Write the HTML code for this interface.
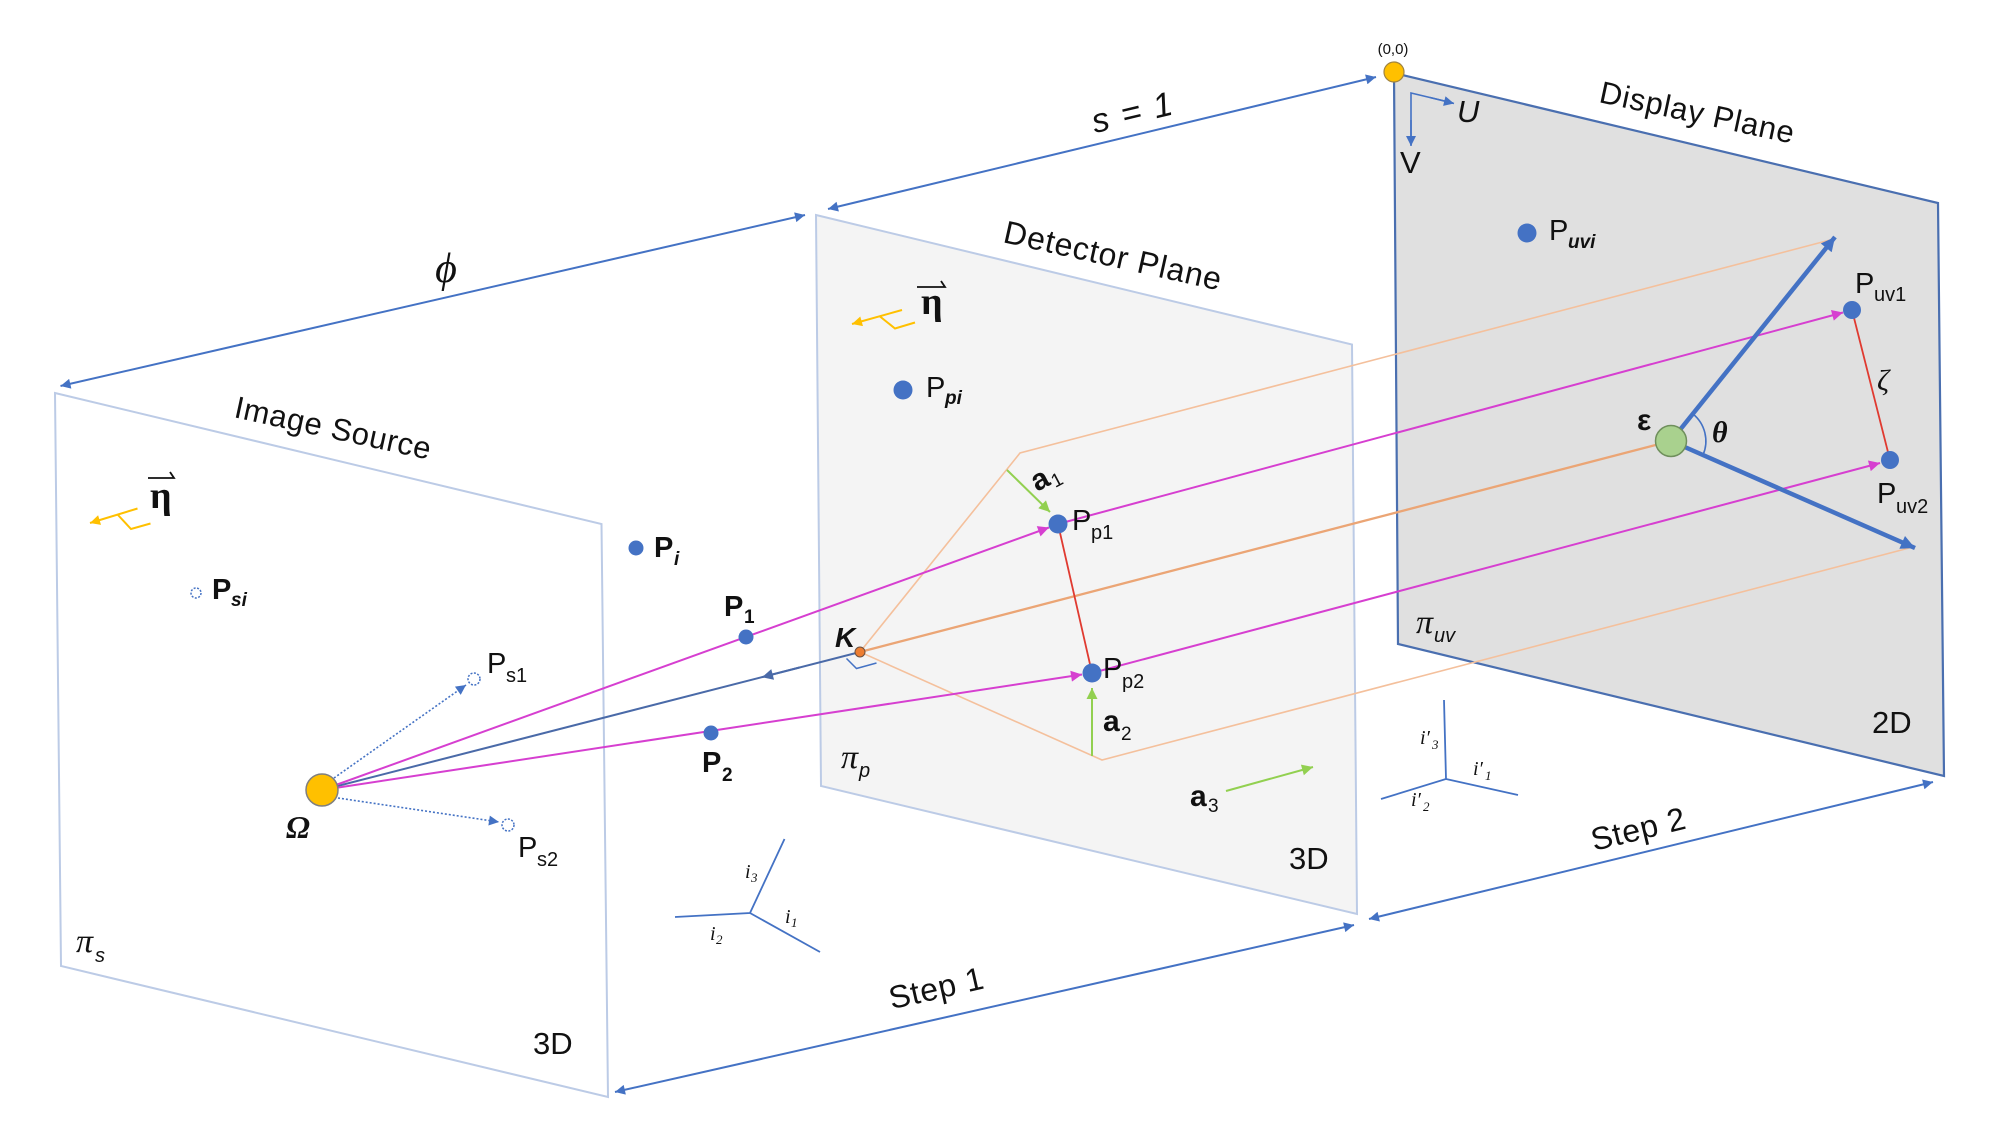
<!DOCTYPE html>
<html><head><meta charset="utf-8"><style>
html,body{margin:0;padding:0;background:#fff;}
svg{display:block;}
text{font-family:"Liberation Sans",sans-serif;fill:#111;}
.sf{font-family:"Liberation Serif","DejaVu Serif",serif;}
</style></head><body>
<svg width="2000" height="1125" viewBox="0 0 2000 1125" xmlns="http://www.w3.org/2000/svg">
<defs>
<marker id="mb" viewBox="0 0 10 10" refX="10" refY="5" markerWidth="13" markerHeight="10" markerUnits="userSpaceOnUse" orient="auto-start-reverse"><path d="M0,0 L10,5 L0,10 z" fill="#4472c4"/></marker>
<marker id="mbd" viewBox="0 0 10 10" refX="10" refY="5" markerWidth="14" markerHeight="11" markerUnits="userSpaceOnUse" orient="auto-start-reverse"><path d="M0,0 L10,5 L0,10 z" fill="#4a6aa8"/></marker>
<marker id="mbt" viewBox="0 0 10 10" refX="10" refY="5" markerWidth="18" markerHeight="14" markerUnits="userSpaceOnUse" orient="auto"><path d="M0,0 L10,5 L0,10 z" fill="#4472c4"/></marker>
<marker id="mm" viewBox="0 0 10 10" refX="10" refY="5" markerWidth="14" markerHeight="11" markerUnits="userSpaceOnUse" orient="auto"><path d="M0,0 L10,5 L0,10 z" fill="#d63fd0"/></marker>
<marker id="mg" viewBox="0 0 10 10" refX="10" refY="5" markerWidth="13" markerHeight="11" markerUnits="userSpaceOnUse" orient="auto"><path d="M0,0 L10,5 L0,10 z" fill="#92d050"/></marker>
<marker id="my" viewBox="0 0 10 10" refX="10" refY="5" markerWidth="11" markerHeight="10" markerUnits="userSpaceOnUse" orient="auto"><path d="M0,0 L10,5 L0,10 z" fill="#ffc000"/></marker>
</defs>

<!-- Planes -->
<polygon points="55,393 601.5,524 608,1097 61,966" fill="#ffffff" stroke="#bccbe6" stroke-width="2"/>
<polygon points="816,215 1352,344.5 1357,914 821,786" fill="#f4f4f4" stroke="#bccbe6" stroke-width="2"/>
<polygon points="1394,73 1938,203 1944,776 1398,644" fill="#e0e0e0" stroke="#4a6fb0" stroke-width="2.2"/>

<!-- Dimension arrows -->
<line x1="60.5" y1="386" x2="805" y2="215" stroke="#4472c4" stroke-width="2" marker-start="url(#mb)" marker-end="url(#mb)"/>
<line x1="828" y1="209" x2="1376" y2="77" stroke="#4472c4" stroke-width="2" marker-start="url(#mb)" marker-end="url(#mb)"/>
<line x1="615" y1="1092" x2="1354" y2="925" stroke="#4472c4" stroke-width="2" marker-start="url(#mb)" marker-end="url(#mb)"/>
<line x1="1369" y1="919" x2="1933" y2="782" stroke="#4472c4" stroke-width="2" marker-start="url(#mb)" marker-end="url(#mb)"/>

<!-- Orange construction lines -->
<polyline points="1830,240 1020,453 860,652 1102,760 1913,547" fill="none" stroke="#f4c09c" stroke-width="1.6"/>
<line x1="860" y1="652" x2="1671" y2="441" stroke="#eba575" stroke-width="2.3"/>

<!-- Dotted arrows from Omega -->
<line x1="334" y1="778" x2="466" y2="685" stroke="#4472c4" stroke-width="1.6" stroke-dasharray="2,2" marker-end="url(#mb)"/>
<line x1="338" y1="798" x2="499" y2="822" stroke="#4472c4" stroke-width="1.6" stroke-dasharray="2,2" marker-end="url(#mb)"/>

<!-- Blue line K -> Omega -->
<line x1="860" y1="652" x2="322" y2="790" stroke="#4a6aa8" stroke-width="2"/>
<line x1="800" y1="667.4" x2="762" y2="677.2" stroke="#4a6aa8" stroke-width="2" marker-end="url(#mbd)"/>
<polyline points="846.5,658.5 856.5,668.5 876.5,663" fill="none" stroke="#4472c4" stroke-width="1.5"/>

<!-- Magenta rays -->
<line x1="322" y1="790" x2="1049" y2="527.5" stroke="#d63fd0" stroke-width="2" marker-end="url(#mm)"/>
<line x1="1058" y1="524" x2="1843" y2="312.5" stroke="#d63fd0" stroke-width="2" marker-end="url(#mm)"/>
<line x1="322" y1="790" x2="1082" y2="674.5" stroke="#d63fd0" stroke-width="2" marker-end="url(#mm)"/>
<line x1="1092" y1="673" x2="1880" y2="463" stroke="#d63fd0" stroke-width="2" marker-end="url(#mm)"/>

<!-- Red -->
<line x1="1058" y1="524" x2="1092" y2="673" stroke="#e03a30" stroke-width="1.8"/>
<line x1="1852" y1="310" x2="1890" y2="460" stroke="#e03a30" stroke-width="1.8"/>

<!-- Green a vectors -->
<line x1="1007" y1="470" x2="1050" y2="512" stroke="#92d050" stroke-width="2" marker-end="url(#mg)"/>
<line x1="1092" y1="756" x2="1092" y2="688" stroke="#92d050" stroke-width="2" marker-end="url(#mg)"/>
<line x1="1226" y1="791" x2="1313" y2="767" stroke="#92d050" stroke-width="2" marker-end="url(#mg)"/>

<!-- Thick blue arrows from epsilon -->
<line x1="1671" y1="441" x2="1835" y2="237" stroke="#4472c4" stroke-width="4.5" marker-end="url(#mbt)"/>
<line x1="1671" y1="441" x2="1915" y2="548" stroke="#4472c4" stroke-width="4.5" marker-end="url(#mbt)"/>
<path d="M1693,414 A35,35 0 0 1 1703,455" fill="none" stroke="#4472c4" stroke-width="1.6"/>

<!-- U V axes -->
<polyline points="1453,103 1411,93 1411,145" fill="none" stroke="#4472c4" stroke-width="1.6"/>
<line x1="1430" y1="97.5" x2="1454" y2="103.5" stroke="#4472c4" stroke-width="1.6" marker-end="url(#mb)"/>
<line x1="1411" y1="120" x2="1411" y2="146" stroke="#4472c4" stroke-width="1.6" marker-end="url(#mb)"/>

<!-- Yellow normal symbols -->
<line x1="137.5" y1="508.5" x2="90" y2="523" stroke="#ffc000" stroke-width="2" marker-end="url(#my)"/>
<polyline points="118,515 131,529 150.5,523.5" fill="none" stroke="#ffc000" stroke-width="2"/>
<line x1="902" y1="310" x2="852" y2="324" stroke="#ffc000" stroke-width="2" marker-end="url(#my)"/>
<polyline points="880,316.5 895,328.5 915,322.5" fill="none" stroke="#ffc000" stroke-width="2"/>

<!-- eta overlines -->
<polyline points="148,478 174,478 170,472" fill="none" stroke="#111" stroke-width="1.8"/>
<polyline points="917,287 945,287 941,281" fill="none" stroke="#111" stroke-width="1.8"/>

<!-- Coordinate axes -->
<polyline points="784.5,839 750,913 675,917" fill="none" stroke="#4472c4" stroke-width="1.8"/>
<line x1="750" y1="913" x2="820" y2="952" stroke="#4472c4" stroke-width="1.8"/>
<polyline points="1444,700 1446,779 1381,799" fill="none" stroke="#4472c4" stroke-width="1.8"/>
<line x1="1446" y1="779" x2="1518" y2="795" stroke="#4472c4" stroke-width="1.8"/>

<!-- Dots -->
<circle cx="322" cy="790" r="16" fill="#ffc000" stroke="#7f7f7f" stroke-width="1.5"/>
<circle cx="1671" cy="441" r="15.5" fill="#a9d18e" stroke="#6f8f5c" stroke-width="1.5"/>
<circle cx="1394" cy="72" r="10" fill="#ffc000" stroke="#a08440" stroke-width="1.2"/>
<circle cx="860" cy="652" r="5" fill="#ed7d31" stroke="#6b5040" stroke-width="1"/>
<g fill="#4472c4">
<circle cx="636" cy="548" r="7.5"/>
<circle cx="903" cy="390" r="9.5"/>
<circle cx="746" cy="637" r="7.5"/>
<circle cx="711" cy="733" r="7.5"/>
<circle cx="1058" cy="524" r="9.5"/>
<circle cx="1092" cy="673" r="9.5"/>
<circle cx="1527" cy="233" r="9.5"/>
<circle cx="1852" cy="310" r="9"/>
<circle cx="1890" cy="460" r="9"/>
</g>
<g fill="#fff" stroke="#4472c4" stroke-width="1.5" stroke-dasharray="2,1.5">
<circle cx="196" cy="593" r="5"/>
<circle cx="474" cy="679" r="6"/>
<circle cx="508" cy="825" r="6"/>
</g>

<!-- Rotated titles -->
<text x="233" y="417" font-size="31" textLength="200" lengthAdjust="spacing" transform="rotate(12.3 233 417)">Image Source</text>
<text x="1002" y="242" font-size="32" textLength="222" lengthAdjust="spacing" transform="rotate(12.6 1002 242)">Detector Plane</text>
<text x="1598" y="102" font-size="31" textLength="198" lengthAdjust="spacing" transform="rotate(12.1 1598 102)">Display Plane</text>
<text x="936" y="988" font-size="32" text-anchor="middle" dominant-baseline="central" textLength="96" lengthAdjust="spacing" transform="rotate(-12.7 936 988)">Step 1</text>
<text x="1638" y="829" font-size="32" text-anchor="middle" dominant-baseline="central" textLength="96" lengthAdjust="spacing" transform="rotate(-13.7 1638 829)">Step 2</text>
<text x="1132" y="113" font-size="34" font-style="italic" text-anchor="middle" dominant-baseline="central" textLength="82" lengthAdjust="spacing" transform="rotate(-13.5 1132 113)">s = 1</text>
<text class="sf" x="446" y="282" font-size="42" font-style="italic" text-anchor="middle">ϕ</text>
<text x="1393" y="54" font-size="15" text-anchor="middle">(0,0)</text>

<!-- Greek / symbols -->
<text class="sf" x="150" y="508" font-size="38" font-weight="bold">η</text>
<text class="sf" x="921" y="314" font-size="38" font-weight="bold">η</text>
<text class="sf" x="286" y="838" font-size="32" font-weight="bold" font-style="italic">Ω</text>
<text x="1637" y="430" font-size="30" font-weight="bold">ε</text>
<text class="sf" x="1712" y="442" font-size="30" font-weight="bold" font-style="italic">θ</text>
<text class="sf" x="1877" y="390" font-size="30" font-style="italic">ζ</text>
<text x="835" y="647" font-size="28" font-style="italic" font-weight="bold">K</text>
<text x="1457" y="122" font-size="31" font-style="italic">U</text>
<text x="1400" y="173" font-size="31">V</text>

<!-- pi labels -->
<text class="sf" x="76" y="952" font-size="34" font-style="italic">π</text><text x="95" y="962" font-size="20" font-style="italic">s</text>
<text class="sf" x="841" y="768" font-size="34" font-style="italic">π</text><text x="859" y="777" font-size="20" font-style="italic">p</text>
<text class="sf" x="1416" y="633" font-size="34" font-style="italic">π</text><text x="1434" y="642" font-size="20" font-style="italic">uv</text>

<!-- 2D/3D -->
<text x="533" y="1054" font-size="31">3D</text>
<text x="1289" y="869" font-size="31">3D</text>
<text x="1872" y="733" font-size="31">2D</text>

<!-- Point labels -->
<text x="654" y="557" font-size="29" font-weight="bold">P</text><text x="674" y="565" font-size="19" font-weight="bold" font-style="italic">i</text>
<text x="212" y="599" font-size="29" font-weight="bold">P</text><text x="231" y="606" font-size="19" font-weight="bold" font-style="italic">si</text>
<text x="926" y="397" font-size="29">P</text><text x="945" y="404" font-size="19" font-weight="bold" font-style="italic">pi</text>
<text x="1549" y="240" font-size="29">P</text><text x="1568" y="248" font-size="19" font-weight="bold" font-style="italic">uvi</text>
<text x="724" y="616" font-size="29" font-weight="bold">P</text><text x="744" y="623" font-size="19" font-weight="bold">1</text>
<text x="702" y="772" font-size="29" font-weight="bold">P</text><text x="722" y="781" font-size="19" font-weight="bold">2</text>
<text x="487" y="673" font-size="29">P</text><text x="506" y="682" font-size="20">s1</text>
<text x="518" y="857" font-size="29">P</text><text x="537" y="866" font-size="20">s2</text>
<text x="1072" y="530" font-size="29">P</text><text x="1091" y="539" font-size="20">p1</text>
<text x="1103" y="678" font-size="29">P</text><text x="1122" y="688" font-size="20">p2</text>
<text x="1855" y="293" font-size="29">P</text><text x="1874" y="301" font-size="20">uv1</text>
<text x="1877" y="503" font-size="29">P</text><text x="1896" y="513" font-size="20">uv2</text>

<!-- a labels -->
<g transform="rotate(-28 1046 477)"><text x="1031" y="486" font-size="30" font-weight="bold">a</text><text x="1049" y="491" font-size="19">1</text></g>
<text x="1103" y="731" font-size="30" font-weight="bold">a</text><text x="1121" y="740" font-size="19">2</text>
<text x="1190" y="806" font-size="30" font-weight="bold">a</text><text x="1208" y="812" font-size="19">3</text>

<!-- axis labels -->
<g class="sf" font-style="italic" fill="#222">
<text class="sf" x="745" y="878" font-size="20">i</text><text class="sf" x="751" y="882" font-size="13">3</text>
<text class="sf" x="710" y="940" font-size="20">i</text><text class="sf" x="716" y="944" font-size="13">2</text>
<text class="sf" x="785" y="923" font-size="20">i</text><text class="sf" x="791" y="927" font-size="13">1</text>
<text class="sf" x="1420" y="744" font-size="20">i′</text><text class="sf" x="1432" y="749" font-size="13">3</text>
<text class="sf" x="1411" y="806" font-size="20">i′</text><text class="sf" x="1423" y="811" font-size="13">2</text>
<text class="sf" x="1473" y="775" font-size="20">i′</text><text class="sf" x="1485" y="780" font-size="13">1</text>
</g>
</svg>
</body></html>
